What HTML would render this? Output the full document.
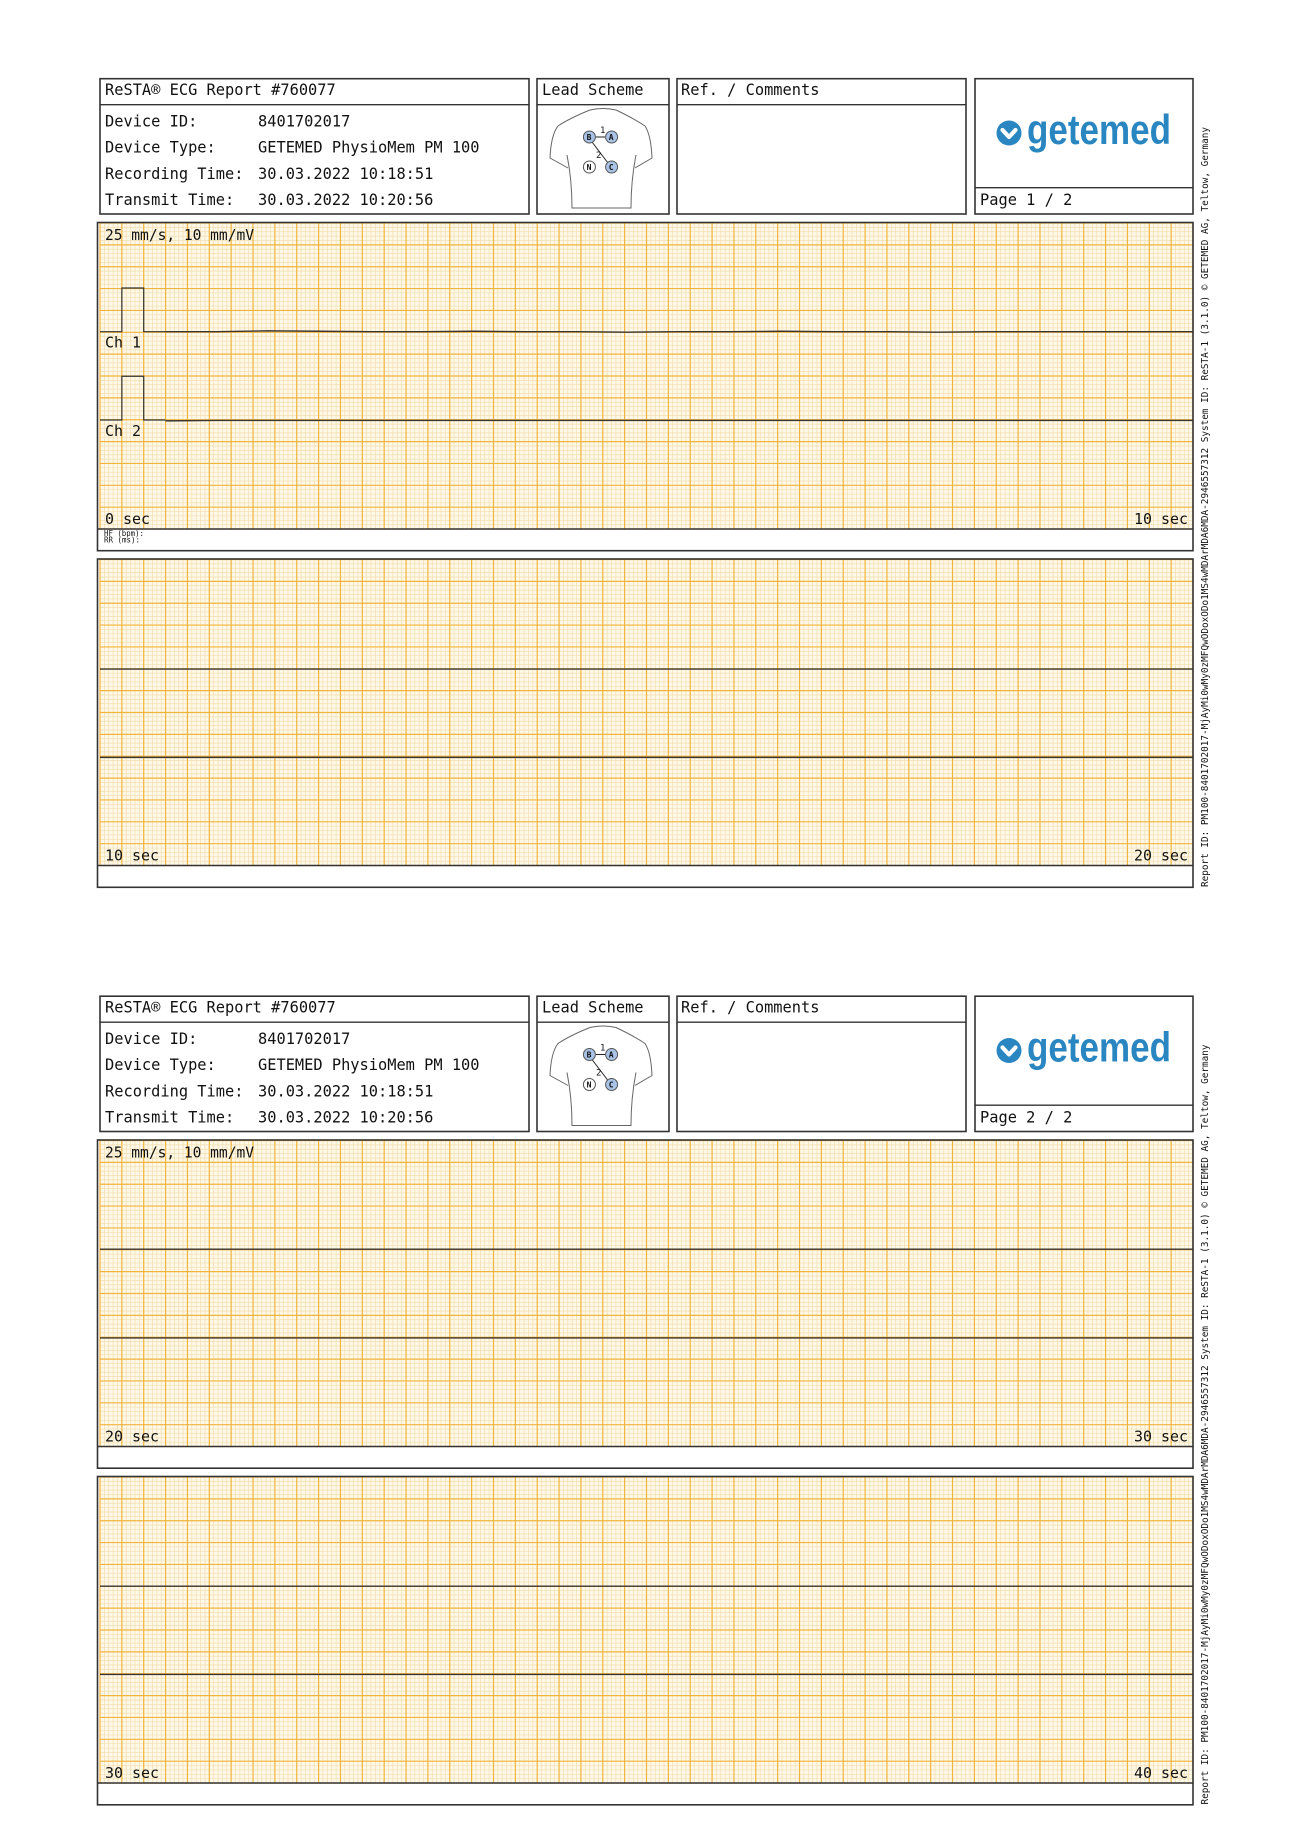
<!DOCTYPE html>
<html><head><meta charset="utf-8"><style>
html,body{margin:0;padding:0;background:#fff;}
svg{display:block;}
text{font-family:"DejaVu Sans Mono","Liberation Mono",monospace;fill:#111;}
</style></head><body>
<svg id="page" width="1299" height="1836" viewBox="0 0 1299 1836" xmlns="http://www.w3.org/2000/svg"></svg>
<script>
// ---- data (mV samples every 0.5 s over 10 s strips) ----
const stripStartSec = [0, 10, 20, 30];
const ch1Strip1 = [0.0,0.0,0.02,0.01,0.0,0.0,0.01,0.0,0.0,-0.01,0.0,0.0,0.01,0.0,0.0,-0.01,0.0,0.0,0.0,0.0,0.0];
const ch2Strip1 = [-0.02,-0.01,-0.01,-0.01,-0.01,-0.01,-0.01,-0.01,-0.01,-0.01,-0.01,-0.01,-0.01,-0.01,-0.01,-0.01,-0.01,-0.01,-0.01,-0.01,-0.01];
const ch1Strip2 = [-0.02,-0.02,-0.02,-0.02,-0.02,-0.02,-0.02,-0.02,-0.02,-0.02,-0.02,-0.02,-0.02,-0.02,-0.02,-0.02,-0.02,-0.02,-0.02,-0.02,-0.02];
const ch2Strip2 = [-0.02,-0.02,-0.02,-0.02,-0.02,-0.02,-0.02,-0.02,-0.02,-0.02,-0.02,-0.02,-0.02,-0.02,-0.02,-0.02,-0.02,-0.02,-0.02,-0.02,-0.02];
const ch1Strip3 = [0.0,0.0,0.0,0.0,0.0,0.0,0.0,0.0,0.0,0.0,0.0,0.0,0.0,0.0,0.0,0.0,0.0,0.0,0.0,0.0,0.0];
const ch2Strip3 = [-0.01,-0.01,-0.01,-0.01,-0.01,-0.01,-0.01,-0.01,-0.01,-0.01,-0.01,-0.01,-0.01,-0.01,-0.01,-0.01,-0.01,-0.01,-0.01,-0.01,-0.01];
const ch1Strip4 = [-0.01,-0.01,-0.01,-0.01,-0.01,-0.01,-0.01,-0.01,-0.01,-0.01,-0.01,-0.01,-0.01,-0.01,-0.01,-0.01,-0.01,-0.01,-0.01,-0.01,-0.01];
const ch2Strip4 = [-0.01,-0.01,-0.01,-0.01,-0.01,-0.01,-0.01,-0.01,-0.01,-0.01,-0.01,-0.01,-0.01,-0.01,-0.01,-0.01,-0.01,-0.01,-0.01,-0.01,-0.01];
const calibMv = [1.0];
const headerLabels = ["Device ID:","Device Type:","Recording Time:","Transmit Time:"];
const headerValues = ["8401702017","GETEMED PhysioMem PM 100","30.03.2022 10:18:51","30.03.2022 10:20:56"];

const NS="http://www.w3.org/2000/svg";
const svg=document.getElementById('page');
function el(tag,attrs,parent){const e=document.createElementNS(NS,tag);for(const k in attrs)e.setAttribute(k,attrs[k]);(parent||svg).appendChild(e);return e;}
function txt(s,x,y,size,len,parent,extra){const t=el('text',Object.assign({x:x,y:y,'font-size':size},extra||{}),parent);if(len){t.setAttribute('textLength',len);t.setAttribute('lengthAdjust','spacingAndGlyphs');}t.textContent=s;return t;}

const GX0=100, GX1=1193, SQ=21.86, PXS=SQ*5, MVPX=SQ*2;
const CW=9.23;
const xScale=t=>GX0+t*PXS;
const yScale=(base,v)=>base-v*MVPX;

function grid(y0,g){
  const h=306;
  el('rect',{x:GX0,y:y0,width:GX1-GX0,height:h,fill:'#fdf8e8'},g);
  let d1='',d2='';
  for(let i=0;i*SQ/5<=GX1-GX0+0.1;i++){const x=GX0+i*SQ/5; if(i%5) d1+=`M${x.toFixed(2)} ${y0}V${y0+h}`; else d2+=`M${x.toFixed(2)} ${y0}V${y0+h}`;}
  for(let i=0;i*SQ/5<=h+0.1;i++){const y=y0+i*SQ/5; if(i%5) d1+=`M${GX0} ${y.toFixed(2)}H${GX1}`; else d2+=`M${GX0} ${y.toFixed(2)}H${GX1}`;}
  el('path',{d:d1,stroke:'#f3deaf',"stroke-width":0.7,fill:'none'},g);
  el('path',{d:d2,stroke:'#f2b43c',"stroke-width":1.2,fill:'none'},g);
}
function trace(vals,base,startT,g,name){
  const pts=vals.map((v,i)=>`${xScale(startT+i*0.5*(10-startT)/10).toFixed(2)},${yScale(base,v).toFixed(2)}`).join(' ');
  const p=el('polyline',{points:pts,fill:'none',stroke:'#3a3530',"stroke-width":1.4},g);
  
  
}

function header(oy,pageNo){
  const g=el('g',{});
  
  
  const S={fill:'none',stroke:'#333',"stroke-width":1.6};
  el('rect',Object.assign({x:100,y:oy+78.7,width:429,height:135.3},S),g);
  el('line',{x1:100,x2:529,y1:oy+104.7,y2:oy+104.7,stroke:'#333','stroke-width':1.4},g);
  txt('ReSTA® ECG Report #760077',105,oy+95,16,25*CW,g);
  for(let i=0;i<4;i++){
    txt(headerLabels[i],105,oy+126.5+i*26.2,16,headerLabels[i].length*CW,g);
    txt(headerValues[i],258,oy+126.5+i*26.2,16,headerValues[i].length*CW,g);
  }
  // lead scheme
  el('rect',Object.assign({x:537,y:oy+78.7,width:132,height:135.3},S),g);
  el('line',{x1:537,x2:669,y1:oy+104.7,y2:oy+104.7,stroke:'#333','stroke-width':1.4},g);
  txt('Lead Scheme',542,oy+95,16,11*CW,g);
  const ls=el('g',{},g);
  
  
  el('path',{d:`M590 ${oy+110} Q570 ${oy+118} 558 ${oy+126} Q551 ${oy+135} 550 ${oy+158} L568 ${oy+168} M567 ${oy+155} Q572 ${oy+180} 572 ${oy+208} L631 ${oy+208} Q631 ${oy+180} 636 ${oy+155} M635 ${oy+168} L652 ${oy+158} Q651 ${oy+135} 645 ${oy+126} Q633 ${oy+118} 616 ${oy+110} Q603 ${oy+107} 590 ${oy+110}`,fill:'none',stroke:'#666','stroke-width':1},ls);
  el('line',{x1:605,y1:oy+137,x2:596,y2:oy+137,stroke:'#222','stroke-width':1},ls);
  el('line',{x1:592,y1:oy+142,x2:608,y2:oy+163,stroke:'#222','stroke-width':1},ls);
  const circ=[['B',589.4,137,'#a9c3e6'],['A',611.6,137,'#a9c3e6'],['N',589.4,167,'#fff'],['C',611.6,167,'#a9c3e6']];
  circ.forEach(c=>{el('circle',{cx:c[1],cy:oy+c[2],r:6,fill:c[3],stroke:'#555','stroke-width':1},ls);txt(c[0],c[1]-2.8,oy+c[2]+3,8,null,ls,{'font-weight':'bold'});});
  txt('1',600,oy+133,9,null,ls);txt('2',596,oy+158,9,null,ls);
  // comments
  el('rect',Object.assign({x:677,y:oy+78.7,width:289,height:135.3},S),g);
  el('line',{x1:677,x2:966,y1:oy+104.7,y2:oy+104.7,stroke:'#333','stroke-width':1.4},g);
  txt('Ref. / Comments',681,oy+95,16,15*CW,g);
  // logo
  el('rect',Object.assign({x:975,y:oy+78.7,width:218,height:135.3},S),g);
  el('line',{x1:975,x2:1193,y1:oy+187.7,y2:oy+187.7,stroke:'#333','stroke-width':1.4},g);
  const lg=el('g',{},g);
  
  
  el('circle',{cx:1009,cy:oy+133,r:12.5,fill:'#2a86c0'},lg);
  el('path',{d:`M1002.5 ${oy+130} L1009 ${oy+137} L1015.5 ${oy+130}`,fill:'none',stroke:'#fff','stroke-width':4.2,'stroke-linecap':'round','stroke-linejoin':'round'},lg);
  const lt=txt('getemed',1027,oy+144,42,144,lg,{'font-weight':'bold'});
  lt.setAttribute('style','font-family:"Liberation Sans",sans-serif;fill:#2a86c0');
  txt('Page '+pageNo+' / 2',980,oy+205,16,10*CW,g);
  // side text
  const st=txt('Report ID: PM100-8401702017-MjAyMi0wMy0zMFQwODoxODo1MS4wMDArMDA6MDA-2946557312   System ID: ReSTA-1 (3.1.0)   © GETEMED AG, Teltow, Germany',0,0,9.5,760,g,{transform:`translate(1208 ${oy+887}) rotate(-90)`});
  
}

function panel(y0,bottomRow,lbls,c1,c2,calib,name,hf){
  const g=el('g',{});
  
  
  grid(y0,g);
  const b1=y0+108.7,b2=y0+197;
  if(calib){
    const yTop1=yScale(b1,calibMv[0]),yTop2=yScale(b2,calibMv[0]);
    el('path',{d:`M${GX0} ${b1}H${xScale(0.2)}V${yTop1}H${xScale(0.4)}V${b1}H${xScale(0.6)}`,fill:'none',stroke:'#333','stroke-width':1.2},g);
    el('path',{d:`M${GX0} ${b2}H${xScale(0.2)}V${yTop2}H${xScale(0.4)}V${b2}H${xScale(0.6)}`,fill:'none',stroke:'#333','stroke-width':1.2},g);
    trace(c1,b1,0.6,g,'ch1-trace');
    trace(c2,b2,0.6,g,'ch2-trace');
    txt('25 mm/s, 10 mm/mV',105,y0+17,15,149,g);
    txt('Ch 1',105,b1+16,15,36,g);
    txt('Ch 2',105,b2+16,15,36,g);
  } else {
    trace(c1,b1,0,g,'ch1-trace');
    trace(c2,b2,0,g,'ch2-trace');
    if(lbls[2]) txt(lbls[2],105,y0+17,15,149,g);
  }
  txt(lbls[0],105,y0+301,15,lbls[0].length*9,g);
  txt(lbls[1],GX1-5-lbls[1].length*9,y0+301,15,lbls[1].length*9,g);
  el('rect',{x:GX0-2.5,y:y0-0.5,width:GX1-GX0+2.5,height:bottomRow-y0+0.5,fill:'none',stroke:'#333','stroke-width':1.6},g);
  el('line',{x1:GX0-2.5,x2:GX1,y1:y0+306,y2:y0+306,stroke:'#333','stroke-width':1.4},g);
  if(hf){txt('HF (bpm):',104,y0+313,8,40,g);txt('RR (ms):',104,y0+319.5,8,36,g);}
}

const P2=917.5;
header(0,1);
panel(223,550.7,[stripStartSec[0]+' sec',stripStartSec[1]+' sec'],ch1Strip1,ch2Strip1,true,'strip-0-10s',true);
panel(559.5,887.3,[stripStartSec[1]+' sec',stripStartSec[2]+' sec'],ch1Strip2,ch2Strip2,false,'strip-10-20s',false);
header(P2,2);
panel(223+P2,550.7+P2,[stripStartSec[2]+' sec',stripStartSec[3]+' sec','25 mm/s, 10 mm/mV'],ch1Strip3,ch2Strip3,false,'strip-20-30s',false);
panel(559.5+P2,887.3+P2,[stripStartSec[3]+' sec',(stripStartSec[3]+10)+' sec'],ch1Strip4,ch2Strip4,false,'strip-30-40s',false);
</script>
</body></html>
